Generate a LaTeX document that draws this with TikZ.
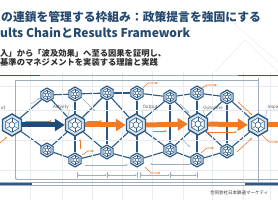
\documentclass[tikz,border=0pt]{standalone}
\usepackage{fontspec}
\setmainfont{Noto Sans CJK JP}
\usetikzlibrary{shapes.geometric, arrows.meta, positioning, backgrounds}
\definecolor{rfnavy}{HTML}{2B5A87}
\definecolor{rfdeep}{HTML}{1F4B78}
\definecolor{rforange}{HTML}{F07A26}
\definecolor{rfgray}{HTML}{9FADBC}
\definecolor{rfgrid}{HTML}{E7ECF1}
\definecolor{rffill}{HTML}{D6E1EC}
\definecolor{rftitle}{HTML}{24496F}
\definecolor{rftext}{HTML}{2F2F2F}

\newcommand{\hexcore}[2]{%
  \fill[white, shift={(path picture bounding box.center)}]
    (30:#1)--(90:#1)--(150:#1)--(210:#1)--(270:#1)--(330:#1)--cycle;
  \draw[rfnavy, line width=0.6pt, shift={(path picture bounding box.center)}]
    (30:#1)--(90:#1)--(150:#1)--(210:#1)--(270:#1)--(330:#1)--cycle
    (30:#2)--(90:#2)--(150:#2)--(210:#2)--(270:#2)--(330:#2)--cycle;
  \foreach \a in {30,90,...,330}
    \draw[rfnavy, line width=0.4pt, shift={(path picture bounding box.center)}] (\a:#2) -- (\a:#1);
}

\tikzset{
  bighex/.style={regular polygon, regular polygon sides=6, shape border rotate=30,
    minimum size=22pt, inner sep=0pt, draw=rfnavy, line width=1.4pt, fill=rffill,
    path picture={\hexcore{7.2}{3.2}}},
  smallhex/.style={regular polygon, regular polygon sides=6, shape border rotate=30,
    minimum size=14pt, inner sep=0pt, draw=rfnavy, line width=1.1pt, fill=rffill,
    path picture={\hexcore{4.6}{2}}},
  link/.style={rfnavy, line width=1.1pt},
  bigarrow/.style={line width=5pt, -{Triangle[length=10pt, width=12pt]}},
  flowarrow/.style={rforange, line width=0.6pt, -{Stealth[length=2.5pt]}},
  guidearrow/.style={rfgray, line width=0.5pt, -{Stealth[length=2.5pt]}},
  tag/.style={font=\fontsize{4.5}{5}\selectfont, text=rftext!80, inner sep=0.5pt},
}

\begin{document}
\begin{tikzpicture}[x=1pt, y=-1pt]
\useasboundingbox (0,0) rectangle (278,200);
\clip (0,0) rectangle (278,200);

\foreach \gx in {30,62,92,122,152,183,212,243,270}
  \draw[rfgrid, line width=0.4pt] (\gx,72) -- (\gx,200);
\foreach \gy in {86,110,140,170}
  \draw[rfgrid, line width=0.4pt] (0,\gy) -- (278,\gy);
\draw[rfgrid, line width=0.5pt] (215,72) -- (245,40) -- (278,72) (230,20) -- (278,62);

\draw[rfgray, line width=0.5pt] (0,75.5) -- (278,75.5);
\draw[rfnavy, line width=1.5pt] (0,75.5) -- (40,75.5);
\draw[rfnavy, line width=1.5pt] (238,75.5) -- (278,75.5);
\draw[rfgray, line width=0.5pt] (15,80) -- (258,80);
\draw[rfgray, line width=0.5pt] (15,80) -- (15,179) (258,78) -- (258,183);
\draw[rfgray, line width=0.5pt, {Stealth[length=2.5pt]}-] (15,179) -- (278,179);
\draw[rfgray, line width=0.5pt] (0,182.5) -- (278,182.5) (0,185) -- (278,185);
\draw[rfnavy, line width=1.5pt] (0,184) -- (32,184);
\draw[rfnavy, line width=1.5pt] (245,184) -- (278,184);
\foreach \dx/\ex in {77/107,107/137,140/170,170/197}
  \draw[rfgray, line width=0.4pt, {Stealth[length=2pt]}-{Stealth[length=2pt]}] (\dx,175) -- (\ex,175);
\foreach \dx in {77,107,137,140,170,197}
  \draw[rfgray, line width=0.4pt] (\dx,172) -- (\dx,178);

\node[anchor=west, inner sep=0pt, text=rftitle, font=\fontsize{11.8}{12}\selectfont\bfseries] (title1) at (1,16.5) {の連鎖を管理する枠組み：政策提言を強固にする};
\node[anchor=west, inner sep=0pt, text=rftitle, font=\fontsize{12}{12}\selectfont\bfseries] (title2) at (0,33) {ults ChainとResults Framework};
\node[anchor=west, inner sep=0pt, text=rftext, font=\fontsize{8.3}{9}\selectfont\bfseries] (sub1) at (0,53.5) {入」から「波及効果」へ至る因果を証明し、};
\node[anchor=west, inner sep=0pt, text=rftext, font=\fontsize{8.3}{9}\selectfont\bfseries] (sub2) at (0,62) {基準のマネジメントを実装する理論と実践};
\node[anchor=west, inner sep=0pt, text=rftext, font=\fontsize{4.5}{5}\selectfont] (footer) at (210,193) {合同会社日本鉄道マーケティ};

\node[bighex] (input) at (12,125) {};
\node[bighex] (activity) at (75,125) {};
\node[bighex] (output) at (136,125) {};
\node[bighex] (outcome) at (198,124) {};
\node[bighex] (impact) at (258,125) {};
\foreach \nm/\px/\py in {t1/47/95, t2/75/94, t3/107/93, t4/137/93, t5/170/97, t6/197/93, t7/227/97,
    b1/47/150, b2/75/160, b3/107/152, b4/137/160, b5/170/150, b6/197/160, b7/227/151}
  \node[smallhex] (\nm) at (\px,\py) {};
\coordinate (edge) at (285,125);

\begin{scope}[on background layer]
\foreach \u/\v in {input/t1, input/b1, t1/activity, b1/activity, t1/t2, b1/b2, t2/b2,
    activity/t3, activity/b3, t3/output, b3/output, t2/t3, b2/b3, t3/b3,
    t3/t4, b3/b4, t4/b4, output/t5, output/b5, t5/outcome, b5/outcome, t4/t5, b4/b5, t5/b5,
    t5/t6, b5/b6, t6/b6, outcome/t7, outcome/b7, t7/impact, b7/impact, t6/t7, b6/b7, t7/b7}
  \draw[link] (\u) -- (\v);
\end{scope}

\draw[bigarrow, rfdeep] (input.east) -- (activity.west);
\draw[bigarrow, rforange] (activity.east) -- (output.west);
\draw[bigarrow, rforange] (output.east) -- (outcome.west);
\draw[bigarrow, rforange] (outcome.east) -- (impact.west);
\draw[line width=5pt, rforange] (impact.east) -- (edge);

\draw[flowarrow] (25,121) -- (52,121);
\draw[flowarrow] (87,121) -- (102,121);
\draw[flowarrow] (153,131) -- (167,131);
\draw[flowarrow] (207,132) -- (237,132);
\draw[flowarrow] (0,143) -- (7,137);
\draw[flowarrow] (80,149) -- (80,139);
\draw[flowarrow] (82,155) -- (88,151) -- (94,151);
\draw[flowarrow] (237,152) -- (252,138);
\draw[flowarrow] (238,102) -- (252,115);
\draw[flowarrow] (143,88) -- (148,83) -- (158,83);
\draw[flowarrow] (202,88) -- (207,85) -- (217,85);
\draw[flowarrow] (201,153) -- (207,148) -- (214,148);
\draw[flowarrow] (262,135) -- (269,142) -- (278,142);
\draw[rforange, line width=0.6pt] (145,167) -- (151,173) -- (159,173);
\fill[rforange] (159,173) circle (0.8pt);
\draw[guidearrow] (31,104) -- (40,98);
\draw[guidearrow] (83,99) -- (95,111);
\draw[guidearrow] (180,104) -- (189,113);
\draw[guidearrow] (182,139) -- (190,147);
\draw[guidearrow] (85,165) -- (128,165);
\draw[guidearrow] (190,164) -- (150,164);

\node[tag, anchor=south west] (lblinput) at (0.3,110) {ut};
\node[tag, anchor=south] (lblactivity) at (61,110) {Activity};
\node[tag, anchor=south] (lbloutput) at (150,110) {Output};
\node[tag, anchor=south] (lbloutcome) at (213,110) {Outcome};
\node[tag, anchor=south west] (lblimpact) at (267,110) {Impa};
\draw[rfgray, line width=0.4pt] (lblactivity.south west) -- (lblactivity.south east) -- (activity.north west);
\draw[rfgray, line width=0.4pt] (lbloutput.south east) -- (lbloutput.south west) -- (output.north east);
\draw[rfgray, line width=0.4pt] (lbloutcome.south east) -- (lbloutcome.south west) -- (outcome.north east);
\draw[rfgray, line width=0.4pt] (lblimpact.south east) -- (lblimpact.south west) -- (impact.north east);
\end{tikzpicture}
\end{document}
